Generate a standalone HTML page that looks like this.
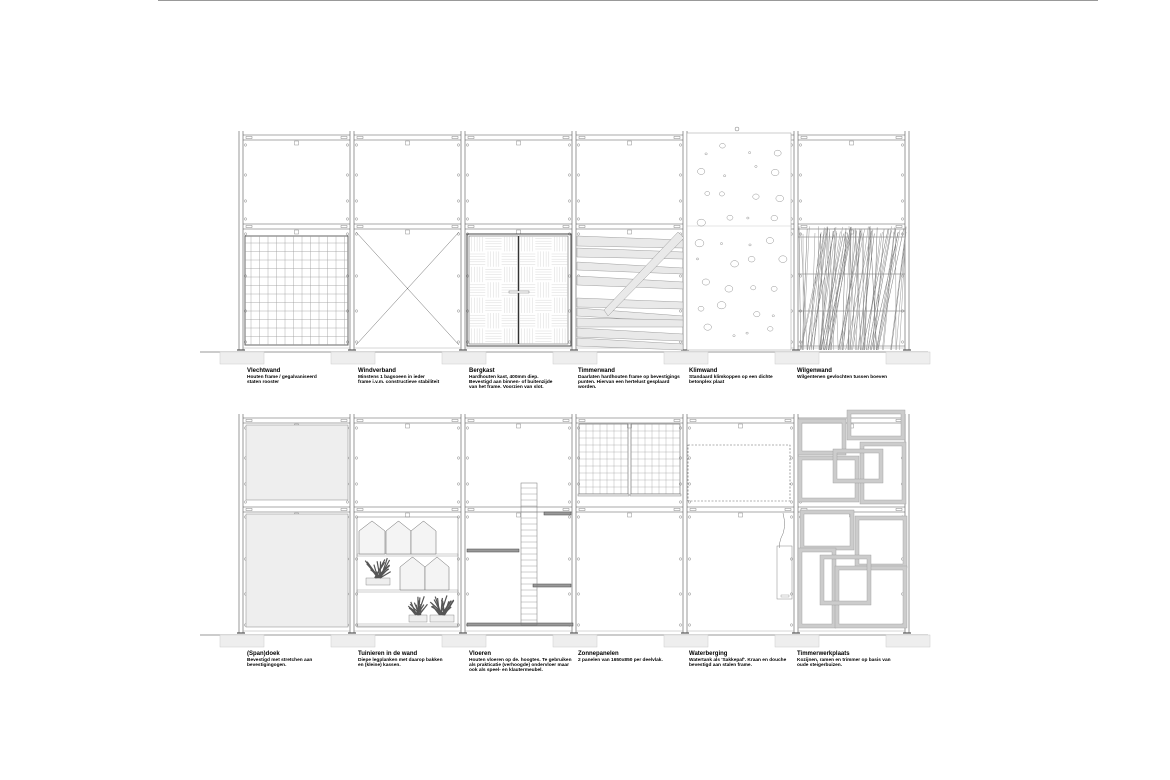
<!DOCTYPE html>
<html><head><meta charset="utf-8"><style>
html,body{margin:0;padding:0;background:#fff;width:1170px;height:780px;overflow:hidden;font-family:"Liberation Sans",sans-serif}
svg{position:absolute;left:0;top:0}
.l{position:absolute;font-size:4.8px;line-height:5px;color:#000;white-space:nowrap;font-weight:bold}
.l b{font-size:6px;display:block;line-height:7px}
</style></head><body>
<svg id="s" width="1170" height="780" viewBox="0 0 1170 780" xmlns="http://www.w3.org/2000/svg">
<line x1="158" y1="0.5" x2="1098" y2="0.5" stroke="#999" stroke-width="1"/>
<g id="g" fill="none" stroke="#555" stroke-width="0.6"></g>
</svg>
<div class="l" style="left:247px;top:368px"><b>Vlechtwand</b>Houten frame / gegalvaniseerd<br>staten rooster</div>
<div class="l" style="left:358px;top:368px"><b>Windverband</b>Minstens 1 bagsoeen in ieder<br>frame i.v.m. constructieve stabiliteit</div>
<div class="l" style="left:469px;top:368px"><b>Bergkast</b>Hardhouten kast, 400mm diep.<br>Bevestigd aan binnen- of buitenzijde<br>van het frame. Voorzien van slot.</div>
<div class="l" style="left:578px;top:368px"><b>Timmerwand</b>Daarlaten hardhouten frame op bevestigings<br>punten. Hiervan een hertelust gesplaard<br>worden.</div>
<div class="l" style="left:689px;top:368px"><b>Klimwand</b>Standaard klimkoppen op een dichte<br>betonplex plaat</div>
<div class="l" style="left:797px;top:368px"><b>Wilgenwand</b>Wilgentenen gevlochten tussen boeven</div>
<div class="l" style="left:247px;top:651px"><b>(Span)doek</b>Bevestigd met stretchen aan<br>bevestigingogen.</div>
<div class="l" style="left:358px;top:651px"><b>Tuinieren in de wand</b>Diepe legplanken met daarop bakken<br>en (kleine) kassen.</div>
<div class="l" style="left:469px;top:651px"><b>Vloeren</b>Houten vloeren op de. hoogtes. Te gebruiken<br>als prakticatie (verhoogde) ondervloer maar<br>ook als speel- en klautermeubel.</div>
<div class="l" style="left:578px;top:651px"><b>Zonnepanelen</b>2 panelen van 1650x850 per deelvlak.</div>
<div class="l" style="left:689px;top:651px"><b>Waterberging</b>Watertank als 'Sakkepaf'. Kraan en douche<br>bevestigd aan stalen frame.</div>
<div class="l" style="left:797px;top:651px"><b>Timmerwerkplaats</b>Kozijnen, ramen en trimmer op basis van<br>oude steigerbuizen.</div>
<script>
const g=document.getElementById('g');let h='';
const P=[241,352,463,574,685,796,907];
function L(a,b,c,d,s,w,e){h+=`<line x1="${a}" y1="${b}" x2="${c}" y2="${d}" stroke="${s||'#555'}" stroke-width="${w||0.6}" ${e||''}/>`}
function R(x,y,w,hh,f,s,sw,e){h+=`<rect x="${x}" y="${y}" width="${w}" height="${hh}" fill="${f||'none'}" stroke="${s||'#555'}" stroke-width="${sw||0.6}" ${e||''}/>`}
function C(x,y,r,s){h+=`<circle cx="${x}" cy="${y}" r="${r}" fill="none" stroke="${s||'#888'}" stroke-width="0.5"/>`}
let seed=11;function rnd(){seed=(seed*9301+49297)%233280;return seed/233280}
function frame(T){
 const M=T+89,B=T+215;
 L(200,B+2,928,B+2,'#777',0.7);
 P.forEach(x=>{R(x-21,B+2,44,12,'#eee','#ccc',0.5);L(x-4,B,x+4,B,'#000',0.8);});
 for(let i=0;i<7;i++){const x=P[i];L(x-2,T-4,x-2,B,'#555',0.6);L(x+2,T-4,x+2,B,'#555',0.6);}
 for(let i=0;i<6;i++){const a=P[i]+2,b=P[i+1]-2;
  [T,T+5,M,M+5].forEach(y=>L(a,y,b,y,'#555',0.6));
  L(a,B-2,b,B-2,'#999',0.4);
  [T+2.5,M+2.5].forEach(y=>{R(a+3,y-1,6,2,'none','#666',0.4);R(b-9,y-1,6,2,'none','#666',0.4)});
  R((a+b)/2-2,T+6,4,4,'none','#777',0.4);R((a+b)/2-2,M+6,4,4,'none','#777',0.4);
  [T+10,T+40,T+66,T+84,M+10,M+52,M+87,M+118].forEach(y=>{C(a+2.5,y,1.2);C(b-2.5,y,1.2)});
 }
}
frame(135);frame(418);
// Vlechtwand
R(245,236,103,109,'none','#555',0.9);
for(let x=251;x<348;x+=8.5)L(x,236,x,345,'#999',0.4);
for(let y=243;y<345;y+=8.5)L(245,y,348,y,'#999',0.4);
// Windverband
L(356,232,459,345,'#666',0.5);L(459,232,356,345,'#666',0.5);
// Bergkast
R(467,234,104,112,'none','#444',1);R(469,236,49,108,'none','#666',0.6);R(519,236,49,108,'none','#666',0.6);L(518.5,236,518.5,344,'#333',1);
for(let bx of [469,519])for(let r=0;r<7;r++)for(let c=0;c<3;c++){const x=bx+c*16.3,y=236+r*15.4;
 if((r+c)%2==0)for(let k=1;k<6;k++)L(x+k*2.7,y,x+k*2.7,y+15.4,'#ccc',0.35);else for(let k=1;k<6;k++)L(x,y+k*2.6,x+16.3,y+k*2.6,'#ccc',0.35);}
R(509,291,20,2,'#fff','#666',0.4);
// Timmerwand
const planks=[[236,240,8],[248,252,7],[262,268,6],[276,282,7],[298,302,7],[308,316,6],[318,320,7],[328,334,7],[338,344,6]];
planks.forEach(p=>h+=`<polygon points="577,${p[0]} 683,${p[1]} 683,${p[1]+p[2]} 577,${p[0]+p[2]+2}" fill="#e9e9e9" stroke="#888" stroke-width="0.4"/>`);
h+=`<polygon points="604,310 678,232 684,238 608,316" fill="#e9e9e9" stroke="#888" stroke-width="0.4"/>`;
// Klimwand
R(687,133,104,217,'#fff','#999',0.5);C(737,129,2,'#777');L(687,226,791,226,'#bbb',0.4);
for(let r=0;r<9;r++)for(let c=0;c<4;c++){const x=697+c*24+rnd()*14,y=143+r*23+rnd()*12,s=rnd()<0.35?1:2+rnd()*1.8;h+=`<ellipse cx="${x}" cy="${y}" rx="${s*1.2}" ry="${s}" fill="none" stroke="#888" stroke-width="0.45"/>`}
// Wilgenwand
[237,274,311,346].forEach(y=>L(798,y,905,y,'#666',0.5));
for(let i=0;i<80;i++){const x1=800+rnd()*100,x2=x1+(rnd()-0.2)*35;L(x1,350,Math.min(906,Math.max(799,x2)),226+rnd()*8,i%3?'#999':'#777',0.5);}
// ===== bottom row =====
R(246,425,102,75,'#eee','#888',0.5);R(246,514,102,113,'#eee','#888',0.5);
// Tuinieren
R(357,517,101,110,'none','#888',0.6);[554,590,624].forEach(y=>R(357,y,101,2,'none','#888',0.4));
function house(x,y,w,hh){h+=`<polygon points="${x},${y+hh} ${x},${y+10} ${x+w/2},${y} ${x+w},${y+10} ${x+w},${y+hh}" fill="#f4f4f4" stroke="#666" stroke-width="0.5"/>`}
house(359,521,26,33);house(386,521,25,33);house(411,521,25,33);house(400,557,25,33);house(425,557,24,33);
function plant(x,y,w){R(x,y,w,7,'#eee','#777',0.4);for(let i=0;i<18;i++){L(x+w/2+(rnd()-0.5)*w*0.3,y,x+w/2+(rnd()-0.5)*w*1.1,y-6-rnd()*14,'#555',1.2)}}
plant(366,578,24);plant(409,615,18);plant(430,615,24);
// Vloeren
[[467,549,52],[533,584,38],[467,623,106],[544,512,27]].forEach(p=>{R(p[0],p[1],p[2],3,'#999','#444',0.5)});
R(521,483,16,142,'none','#777',0.5);for(let y=488;y<625;y+=6)L(521,y,537,y,'#888',0.4);
// Zonnepanelen
[[579,424,49],[631,424,49]].forEach(p=>{R(p[0],p[1],p[2],70,'none','#666',0.6);for(let x=p[0];x<p[0]+p[2];x+=7)L(x,424,x,494,'#999',0.35);for(let y=424;y<494;y+=7)L(p[0],y,p[0]+p[2],y,'#999',0.35);R(p[0]-1,494,p[2]+2,2,'#eee','#666',0.4)});
// Waterberging
R(688,445,102,56,'none','#666',0.6,'stroke-dasharray="2,1.5"');
h+=`<path d="M783,513 q4,15 -2,25 q-3,10 -1,10" fill="none" stroke="#777" stroke-width="0.5"/>`;
R(777,546,15,53,'none','#888',0.5);R(781,595,8,2,'none','#888',0.4);
// Timmerwerkplaats
function fr(x,y,w,hh){R(x,y,w,hh,'none','#ccc',4);R(x-2,y-2,w+4,hh+4,'none','#999',0.4);R(x+2,y+2,w-4,hh-4,'none','#999',0.4)}
[[800,421,44,32],[849,412,54,26],[800,458,57,42],[862,444,42,58],[835,451,46,30],[802,512,50,36],[857,518,48,48],[800,550,34,76],[837,568,68,58],[822,557,47,46]].forEach(f=>fr(...f));
g.innerHTML=h;
</script>
</body></html>
